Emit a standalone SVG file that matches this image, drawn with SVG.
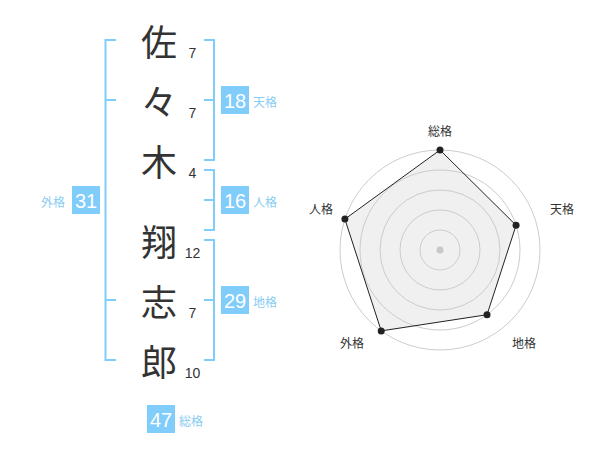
<svg xmlns="http://www.w3.org/2000/svg" width="600" height="470" viewBox="0 0 600 470">
<style>
.kj{font-family:"Noto Sans CJK JP","Noto Sans CJK SC",sans-serif;font-size:36px;fill:#333;text-anchor:middle;dominant-baseline:central}
.st{font-family:"Liberation Sans",Arial,sans-serif;font-size:14px;fill:#333;text-anchor:middle;dominant-baseline:central}
.br{fill:none;stroke:#80ccfa;stroke-width:2}
.box{fill:#80ccfa}
.bn{font-family:"Liberation Sans",Arial,sans-serif;font-size:20px;fill:#fff;text-anchor:middle;dominant-baseline:central}
.bl{font-family:"Noto Sans CJK JP","Noto Sans CJK SC",sans-serif;font-size:12px;fill:#88ccf2;dominant-baseline:central}
.ring{fill:none;stroke:#cccccc;stroke-width:1}
.rl{font-family:"Noto Sans CJK JP","Noto Sans CJK SC",sans-serif;font-size:12px;fill:#333;text-anchor:middle;dominant-baseline:central}
.dot{fill:#222}
</style>
<rect width="600" height="470" fill="#fff"/>
<g id="connectors">
<path class="br" d="M116,40 H105.5 V360 H116 M105.5,100 H116 M105.5,300 H116"/>
<path class="br" d="M204,40 H214 V160 H204 M214,100 H204"/>
<path class="br" d="M204,170 H214 V230 H204 M214,200 H204"/>
<path class="br" d="M204,240 H214 V360 H204 M214,300 H204"/>
</g>
<g id="name">
<g id="c1"><text class="kj" x="159" y="40">佐</text><text class="st" x="192.5" y="52.5">7</text></g>
<g id="c2"><text class="kj" x="159" y="100">々</text><text class="st" x="192.5" y="112.5">7</text></g>
<g id="c3"><text class="kj" x="159" y="160">木</text><text class="st" x="192.5" y="172.5">4</text></g>
<g id="c4"><text class="kj" x="159" y="240">翔</text><text class="st" x="192.5" y="253">12</text></g>
<g id="c5"><text class="kj" x="159" y="300">志</text><text class="st" x="192.5" y="313">7</text></g>
<g id="c6"><text class="kj" x="159" y="360">郎</text><text class="st" x="192.5" y="373">10</text></g>
</g>
<g id="tenkaku"><rect class="box" x="221" y="86" width="28" height="28"/><text class="bn" x="235" y="100.5">18</text><text class="bl" x="253" y="101">天格</text></g>
<g id="jinkaku"><rect class="box" x="221" y="186" width="28" height="28"/><text class="bn" x="235" y="200.5">16</text><text class="bl" x="253" y="201">人格</text></g>
<g id="chikaku"><rect class="box" x="221" y="286" width="28" height="28"/><text class="bn" x="235" y="300.5">29</text><text class="bl" x="253" y="301">地格</text></g>
<g id="gaikaku"><rect class="box" x="72" y="186" width="28" height="28"/><text class="bn" x="86" y="200.5">31</text><text class="bl" x="41" y="201">外格</text></g>
<g id="soukaku"><rect class="box" x="147" y="405" width="28" height="28"/><text class="bn" x="161" y="419.5">47</text><text class="bl" x="179" y="420">総格</text></g>
<g id="radar">
<polygon points="440,150 516.08,225.28 487.02,314.72 381.22,330.9 344.89,219.1" fill="#f0f0f0" stroke="none"/>
<circle class="ring" cx="440" cy="250" r="20"/>
<circle class="ring" cx="440" cy="250" r="40"/>
<circle class="ring" cx="440" cy="250" r="60"/>
<circle class="ring" cx="440" cy="250" r="80"/>
<circle class="ring" cx="440" cy="250" r="100"/>
<polygon points="440,150 516.08,225.28 487.02,314.72 381.22,330.9 344.89,219.1" fill="none" stroke="#222" stroke-width="1"/>
<circle cx="440" cy="250" r="3.5" fill="#c8c8c8"/>
<circle class="dot" cx="440" cy="150" r="3.5"/>
<circle class="dot" cx="516.08" cy="225.28" r="3.5"/>
<circle class="dot" cx="487.02" cy="314.72" r="3.5"/>
<circle class="dot" cx="381.22" cy="330.9" r="3.5"/>
<circle class="dot" cx="344.89" cy="219.1" r="3.5"/>
<text class="rl" x="440" y="130">総格</text>
<text class="rl" x="562" y="208">天格</text>
<text class="rl" x="524" y="342">地格</text>
<text class="rl" x="352" y="342">外格</text>
<text class="rl" x="321" y="208">人格</text>
</g>
</svg>
